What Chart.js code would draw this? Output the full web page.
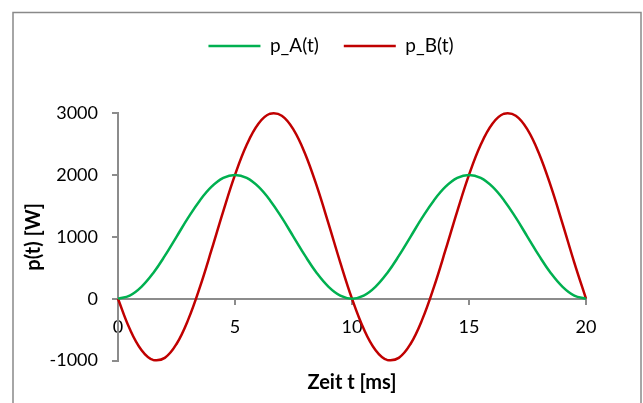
<!DOCTYPE html>
<html>
<head>
<meta charset="utf-8">
<script src="https://cdn.jsdelivr.net/npm/chart.js@4/dist/chart.umd.min.js"></script>
<style>
    html, body { margin: 0; padding: 0; background: #fff; }
    #wrap { width: 643px; height: 403px; }
</style>
</head>
<body>
<div id="wrap"><canvas id="powerChart" width="643" height="403"></canvas></div>
<script>
// time axis in ms
const times = [
    0, 0.5, 1, 1.5, 2, 2.5, 3, 3.5, 4, 4.5, 5, 5.5, 6, 6.5, 7, 7.5, 8, 8.5, 9, 9.5, 10,
    10.5, 11, 11.5, 12, 12.5, 13, 13.5, 14, 14.5, 15, 15.5, 16, 16.5, 17, 17.5, 18, 18.5, 19, 19.5, 20
];

// p_A(t) in W
const pA = [
    0, 49, 191, 412, 691, 1000, 1309, 1588, 1809, 1951, 2000, 1951, 1809, 1588, 1309, 1000, 691, 412, 191, 49, 0,
    49, 191, 412, 691, 1000, 1309, 1588, 1809, 1951, 2000, 1951, 1809, 1588, 1309, 1000, 691, 412, 191, 49, 0
];

// p_B(t) in W
const pB = [
    0, -486, -827, -989, -956, -732, -338, 187, 791, 1416, 2000, 2486, 2827, 2989, 2956, 2732, 2338, 1813, 1209, 584, 0,
    -486, -827, -989, -956, -732, -338, 187, 791, 1416, 2000, 2486, 2827, 2989, 2956, 2732, 2338, 1813, 1209, 584, 0
];

const seriesNames = ["p_A(t)", "p_B(t)"];
const seriesColors = ["#00B050", "#C00000"];

const xTicks = [0, 5, 10, 15, 20];
const yTicks = [-1000, 0, 1000, 2000, 3000];

const axisGray = "#8c8c8c";
const fontFamily = "Lato, 'Open Sans', sans-serif";

const toPoints = (vals) => times.map((t, i) => ({ x: t, y: vals[i] }));

// -----------------------------
// SMALL HELPERS (PLUGINS)
// -----------------------------
const frame = {
    id: "frame",
    beforeDraw(chart) {
        const ctx = chart.ctx;
        ctx.save();
        ctx.fillStyle = "#fff";
        ctx.fillRect(0, 0, chart.width, chart.height);
        ctx.strokeStyle = "#898989";
        ctx.lineWidth = 1.5;
        ctx.strokeRect(13, 12.5, 628, 500);
        ctx.restore();
    }
};

const legendSpace = {
    id: "legendSpace",
    beforeInit(chart) {
        const fit = chart.legend.fit;
        chart.legend.fit = function () {
            fit.bind(chart.legend)();
            this.height += 47.5;
        };
    },
    afterLayout(chart) {
        // legend sits a bit right of the canvas centre
        chart.legend.left += 38;
        chart.legend.right += 38;
    }
};

new Chart(document.getElementById("powerChart"), {
    type: "line",
    data: {
        datasets: [pA, pB].map((vals, i) => ({
            label: seriesNames[i],
            data: toPoints(vals),
            borderColor: seriesColors[i],
            backgroundColor: seriesColors[i],
            borderWidth: 2.5,
            pointRadius: 0,
            tension: 0.4,
            fill: false,
            clip: false
        }))
    },
    options: {
        responsive: false,
        animation: false,
        events: [],
        layout: {
            padding: { top: 11.5, right: 57, bottom: 0, left: 0 }
        },
        scales: {
            x: {
                type: "linear",
                position: { y: 0 },
                min: 0,
                max: 20,
                afterBuildTicks: (scale) => {
                    scale.ticks = xTicks.map(v => ({ value: v }));
                },
                ticks: {
                    padding: 13,
                    color: "#000",
                    font: { family: fontFamily, size: 18 },
                    callback: (v) => String(v)
                },
                grid: {
                    drawOnChartArea: false,
                    tickLength: 5,
                    color: axisGray,
                    lineWidth: 2
                },
                border: { color: axisGray, width: 2 }
            },
            y: {
                min: -1000,
                max: 3000,
                afterBuildTicks: (scale) => {
                    scale.ticks = yTicks.map(v => ({ value: v }));
                },
                afterFit: (scale) => {
                    scale.width = 118;
                },
                ticks: {
                    padding: 14,
                    color: "#000",
                    font: { family: fontFamily, size: 18 },
                    callback: (v) => String(v)
                },
                grid: {
                    drawOnChartArea: false,
                    tickLength: 6,
                    color: axisGray,
                    lineWidth: 2
                },
                border: { color: axisGray, width: 2 },
                title: {
                    display: true,
                    text: "p(t) [W]",
                    color: "#000",
                    padding: { top: 22, bottom: 0 },
                    font: { family: fontFamily, size: 20, weight: "bold" }
                }
            }
        },
        plugins: {
            legend: {
                position: "top",
                labels: {
                    boxWidth: 52,
                    boxHeight: 0,
                    padding: 25,
                    color: "#000",
                    font: { family: fontFamily, size: 19 }
                }
            },
            title: {
                display: true,
                position: "bottom",
                fullSize: false,
                text: "Zeit t [ms]",
                color: "#000",
                padding: { top: 10, bottom: 8.4 },
                font: { family: fontFamily, size: 20, weight: "bold" }
            },
            tooltip: { enabled: false }
        }
    },
    plugins: [frame, legendSpace]
});
</script>
</body>
</html>
